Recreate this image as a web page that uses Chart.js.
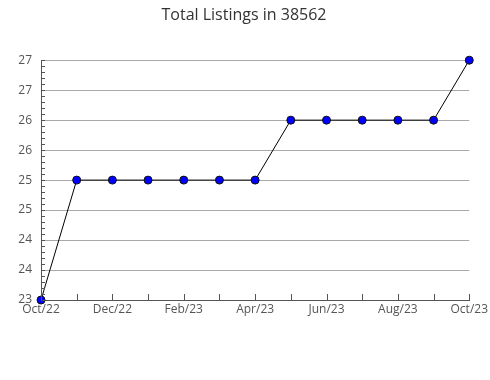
<!DOCTYPE html>
<html>
<head>
<meta charset="utf-8">
<script src="https://cdn.jsdelivr.net/npm/chart.js@4/dist/chart.umd.min.js"></script>
<style>
  html, body { margin: 0; padding: 0; background: #fff; }
  #wrap { width: 490px; height: 380px; }
</style>
</head>
<body>
<div id="wrap"><canvas id="listingsChart" width="490" height="380"></canvas></div>
<script>
const MONTHS = ['Oct/22', 'Nov/22', 'Dec/22', 'Jan/23', 'Feb/23', 'Mar/23', 'Apr/23',
  'May/23', 'Jun/23', 'Jul/23', 'Aug/23', 'Sep/23', 'Oct/23'];
const LISTINGS = [23, 25, 25, 25, 25, 25, 25, 26, 26, 26, 26, 26, 27];
const Y_MIN = 23;
const Y_MAX = 27;
const Y_STEP = 0.5;

const FONT = "'Open Sans', 'Noto Sans', sans-serif";
const AXIS_COLOR = '#555';
const TEXT_COLOR = '#555';

// small tick marks pointing into the plot: minor ticks on y, one per month on x
const innerTicks = {
  id: 'innerTicks',
  afterDatasetsDraw(chart) {
    const { ctx, scales: { x, y }, chartArea } = chart;
    ctx.save();
    ctx.strokeStyle = AXIS_COLOR;
    ctx.lineWidth = 1;
    ctx.beginPath();
    for (let v = Y_MIN; v <= Y_MAX + 1e-9; v += Y_STEP / 5) {
      const py = Math.round(y.getPixelForValue(v)) + 0.5;
      ctx.moveTo(chartArea.left, py);
      ctx.lineTo(chartArea.left + 4, py);
    }
    MONTHS.forEach((m, i) => {
      const px = Math.round(x.getPixelForTick(i)) + 0.5;
      ctx.moveTo(px, chartArea.bottom);
      ctx.lineTo(px, chartArea.bottom - 6);
    });
    ctx.stroke();
    ctx.restore();
  },
};

new Chart(document.getElementById('listingsChart'), {
  type: 'line',
  data: {
    labels: MONTHS,
    datasets: [{
      data: LISTINGS,
      borderColor: '#000',
      borderWidth: 1,
      tension: 0,
      clip: false,
      pointBackgroundColor: '#0000ff',
      pointBorderColor: '#111',
      pointBorderWidth: 1,
      pointRadius: 4,
      pointStyle: 'circle',
    }],
  },
  options: {
    responsive: false,
    animation: false,
    layout: { padding: { top: 0, right: 20, bottom: 60, left: 18 } },
    plugins: {
      legend: { display: false },
      tooltip: { enabled: false },
      title: {
        display: true,
        text: 'Total Listings in 38562',
        color: '#333',
        font: { family: FONT, size: 16, weight: 'normal' },
        padding: { top: 6, bottom: 35 },
      },
    },
    scales: {
      x: {
        type: 'category',
        offset: false,
        grid: { display: false, drawTicks: false },
        border: { display: true, color: AXIS_COLOR, width: 1 },
        ticks: {
          autoSkip: false,
          maxRotation: 0,
          padding: 2,
          color: TEXT_COLOR,
          font: { family: FONT, size: 12 },
          callback: (val, i) => (i % 2 === 0 ? MONTHS[i] : ''),
        },
        afterFit: (s) => { s.height = 20; },
      },
      y: {
        min: Y_MIN,
        max: Y_MAX,
        grid: { color: '#aaa', drawTicks: false },
        border: { display: true, color: AXIS_COLOR, width: 1 },
        ticks: {
          stepSize: Y_STEP,
          padding: 9,
          color: TEXT_COLOR,
          font: { family: FONT, size: 12 },
          callback: (v) => Math.round(v),
        },
        afterFit: (s) => { s.width = 23; },
      },
    },
  },
  plugins: [innerTicks],
});
</script>
</body>
</html>
